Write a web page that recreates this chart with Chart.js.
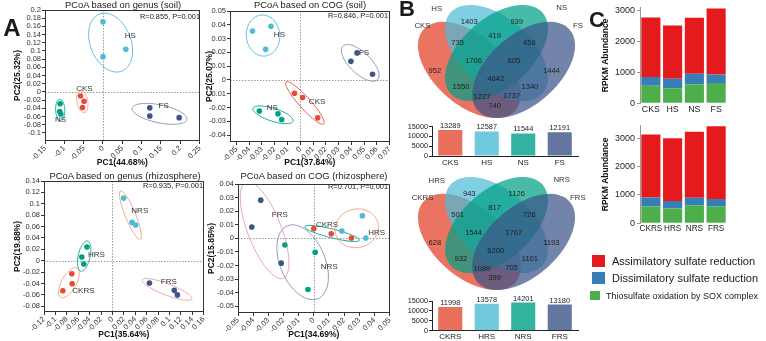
<!DOCTYPE html>
<html>
<head>
<meta charset="utf-8">
<script src="https://cdn.jsdelivr.net/npm/chart.js@4.4.1/dist/chart.umd.min.js"></script>
<style>
  body { margin: 0; width: 766px; height: 341px; overflow: hidden; position: relative; background: #fff;
         font-family: "Liberation Sans", Arial, sans-serif; }
  canvas { position: absolute; }
  .t { position: absolute; white-space: nowrap; color: #1a1a1a; line-height: 1; }
</style>
</head>
<body>
<script>
// ---------- data: PCoA (A) ----------
const soilGroups = ['CKS', 'HS', 'NS', 'FS'];
const rhizoGroups = ['CKRS', 'HRS', 'NRS', 'FRS'];

// genus, soil
const genusSoilX = [[-0.058, -0.049, -0.053], [0.0, 0.059, 0.0], [-0.111, -0.112, -0.109], [0.121, 0.121, 0.197]];
const genusSoilY = [[-0.010, -0.023, -0.038], [0.171, 0.104, 0.086], [-0.029, -0.048, -0.054], [-0.039, -0.059, -0.063]];
const genusSoilXTicks = [-0.15, -0.1, -0.05, 0, 0.05, 0.1, 0.15, 0.2, 0.25];
const genusSoilYTicks = [-0.1, -0.08, -0.06, -0.04, -0.02, 0, 0.02, 0.04, 0.06, 0.08, 0.1, 0.12, 0.14, 0.16, 0.18, 0.2];

// COG, soil
const cogSoilX = [[-0.0045, 0.0018, 0.0137], [-0.0374, -0.0229, -0.0271], [-0.032, -0.0174, -0.0145], [0.0445, 0.0397, 0.0566]];
const cogSoilY = [[-0.0097, -0.0128, -0.0275], [0.0355, 0.0389, 0.0222], [-0.0225, -0.0246, -0.0287], [0.0196, 0.0135, 0.0041]];
const cogSoilXTicks = [-0.05, -0.04, -0.03, -0.02, -0.01, 0, 0.01, 0.02, 0.03, 0.04, 0.05, 0.06, 0.07];
const cogSoilYTicks = [-0.04, -0.03, -0.02, -0.01, 0, 0.01, 0.02, 0.03, 0.04, 0.05];

// genus, rhizosphere
const genusRhizoX = [[-0.0712, -0.0706, -0.087], [-0.0446, -0.0537, -0.0503], [0.0198, 0.0345, 0.0407], [0.065, 0.1085, 0.114]];
const genusRhizoY = [[-0.0228, -0.0404, -0.0526], [0.024, 0.0064, -0.0058], [0.110, 0.0673, 0.0626], [-0.039, -0.052, -0.060]];
const genusRhizoXTicks = [-0.12, -0.1, -0.08, -0.06, -0.04, -0.02, 0, 0.02, 0.04, 0.06, 0.08, 0.1, 0.12, 0.14, 0.16];
const genusRhizoYTicks = [-0.08, -0.06, -0.04, -0.02, 0, 0.02, 0.04, 0.06, 0.08, 0.1, 0.12, 0.14];

// COG, rhizosphere
const cogRhizoX = [[0.0, 0.0115, 0.0248], [0.0185, 0.032, 0.0343], [-0.0191, 0.0009, -0.0039], [-0.035, -0.0409, -0.0215]];
const cogRhizoY = [[0.0071, 0.0034, 0.0002], [0.0054, 0.0166, 0.0002], [-0.0049, -0.0103, -0.0377], [0.0281, 0.0083, -0.0183]];
const cogRhizoXTicks = [-0.05, -0.04, -0.03, -0.02, -0.01, 0, 0.01, 0.02, 0.03, 0.04, 0.05];
const cogRhizoYTicks = [-0.05, -0.04, -0.03, -0.02, -0.01, 0, 0.01, 0.02, 0.03, 0.04];

// ---------- data: Venn + totals (B) ----------
const vennSoilCounts = [1403, 939, 735, 419, 456, 1706, 605, 952, 4642, 1444, 1550, 1340, 1227, 1737, 740];
const vennRhizoCounts = [943, 1126, 501, 817, 726, 1544, 1767, 628, 6200, 1193, 932, 1101, 1089, 705, 399];
const vennSoilNames = ['HS', 'NS', 'CKS', 'FS'];
const vennRhizoNames = ['HRS', 'NRS', 'CKRS', 'FRS'];
const totalSoil = [13289, 12587, 11544, 12191];
const totalRhizo = [11998, 13578, 14201, 13180];
const totalTicks = [0, 5000, 10000, 15000];

// ---------- data: sulfur pathways (C) ----------
const pathways = ['Assimilatory sulfate reduction', 'Dissimilatory sulfate reduction', 'Thiosulfate oxidation by SOX complex'];
const soilAssim = [1922, 1727, 1809, 2128];
const soilDissim = [288, 308, 339, 277];
const soilThio = [565, 483, 617, 658];
const rhizoAssim = [2222, 2211, 2322, 2566];
const rhizoDissim = [322, 267, 267, 267];
const rhizoThio = [589, 522, 633, 589];
const rpkmTicks = [0, 1000, 2000, 3000];

// ---------- style ----------
const FONT = '"Liberation Sans", Arial, sans-serif';
Chart.defaults.font.family = FONT;
Chart.defaults.color = '#333';
Chart.defaults.animation = false;
Chart.defaults.responsive = false;
Chart.defaults.devicePixelRatio = 1;
Chart.defaults.plugins.legend.display = false;
Chart.defaults.plugins.tooltip.enabled = false;

const npg = { red: '#E64B35', cyan: '#4DBBD5', teal: '#00A087', navy: '#3C5488', salmon: '#F39B7F', grey: '#8491B4', pink: '#E89AB8' };

function fmt(v) { return String(parseFloat(Number(v).toFixed(3))); }

function makeCanvas(b) {
  const c = document.createElement('canvas');
  c.width = b.w; c.height = b.h;
  c.style.left = b.left + 'px'; c.style.top = b.top + 'px';
  document.body.appendChild(c);
  return c;
}

function text(str, x, y, size, o = {}) {
  const d = document.createElement('div');
  d.className = 't';
  d.textContent = str;
  d.style.fontSize = size + 'px';
  d.style.left = x + 'px';
  d.style.top = y + 'px';
  if (o.bold) d.style.fontWeight = 'bold';
  const ax = o.align === 'left' ? '0' : o.align === 'right' ? '-100%' : '-50%';
  d.style.transform = `translate(${ax}, -50%)`;
  document.body.appendChild(d);
}

// ellipse around a group, fitted from the points' covariance in pixel space
function ellipsePts(data, xs, ys) {
  const p = data.map(d => [xs.getPixelForValue(d.x), ys.getPixelForValue(d.y)]);
  const n = p.length;
  const mx = p.reduce((s, q) => s + q[0], 0) / n, my = p.reduce((s, q) => s + q[1], 0) / n;
  let sxx = 0, syy = 0, sxy = 0;
  p.forEach(q => { sxx += (q[0] - mx) ** 2; syy += (q[1] - my) ** 2; sxy += (q[0] - mx) * (q[1] - my); });
  sxx = sxx / (n - 1) + 1; syy = syy / (n - 1) + 1; sxy /= (n - 1);
  const det = sxx * syy - sxy * sxy;
  let m = 0;
  p.forEach(q => {
    const dx = q[0] - mx, dy = q[1] - my;
    m = Math.max(m, (syy * dx * dx - 2 * sxy * dx * dy + sxx * dy * dy) / det);
  });
  const tr = sxx + syy, disc = Math.sqrt(Math.max(tr * tr / 4 - det, 0));
  const l1 = tr / 2 + disc, l2 = Math.max(tr / 2 - disc, 0);
  const th = 0.5 * Math.atan2(2 * sxy, sxx - syy);
  const r = Math.sqrt(m) * 1.25;
  const A = r * Math.sqrt(l1) + 3, B = r * Math.sqrt(l2) + 3;
  const out = [];
  for (let k = 0; k <= 72; k++) {
    const t = k / 72 * Math.PI * 2, u = A * Math.cos(t), v = B * Math.sin(t);
    out.push([mx + u * Math.cos(th) - v * Math.sin(th), my + u * Math.sin(th) + v * Math.cos(th)]);
  }
  return out;
}

const pcoaPlugin = {
  id: 'pcoa',
  beforeDatasetsDraw(chart, args, opts) {
    const { ctx, chartArea: a, scales: { x, y } } = chart;
    ctx.save();
    ctx.strokeStyle = '#9a9a9a'; ctx.lineWidth = 1; ctx.setLineDash([1.5, 1.5]);
    const x0 = Math.round(x.getPixelForValue(0)) + 0.5, y0 = Math.round(y.getPixelForValue(0)) + 0.5;
    ctx.beginPath();
    ctx.moveTo(x0, a.top); ctx.lineTo(x0, a.bottom);
    ctx.moveTo(a.left, y0); ctx.lineTo(a.right, y0);
    ctx.stroke();
    ctx.setLineDash([]);
    ctx.beginPath(); ctx.rect(a.left, a.top, a.width, a.height); ctx.clip();
    chart.data.datasets.forEach((ds, i) => {
      const pts = ellipsePts(ds.data, x, y);
      ctx.strokeStyle = opts.ellipseColors[i]; ctx.lineWidth = 0.9;
      ctx.beginPath();
      pts.forEach((q, j) => j ? ctx.lineTo(q[0], q[1]) : ctx.moveTo(q[0], q[1]));
      ctx.closePath(); ctx.stroke();
    });
    ctx.restore();
  },
  afterDatasetsDraw(chart, args, opts) {
    const { ctx, chartArea: a, scales: { x, y } } = chart;
    ctx.save();
    ctx.strokeStyle = '#333'; ctx.lineWidth = 1;
    ctx.strokeRect(Math.round(a.left) + 0.5, Math.round(a.top) + 0.5, Math.round(a.width) - 1, Math.round(a.height) - 1);
    ctx.font = '8px ' + FONT; ctx.fillStyle = '#333'; ctx.textAlign = 'center'; ctx.textBaseline = 'middle';
    opts.labels.forEach(l => ctx.fillText(l[0], x.getPixelForValue(l[1]), y.getPixelForValue(l[2])));
    ctx.restore();
  }
};

function pcoa(box, area, cfg) {
  const cv = makeCanvas(box);
  const lh = 8.5 * 1.2;
  const axisTicks = arr => s => { s.ticks = arr.map(v => ({ value: v })); };
  new Chart(cv, {
    type: 'scatter',
    data: {
      datasets: cfg.groups.map((g, i) => ({
        label: g,
        data: cfg.xs[i].map((v, j) => ({ x: v, y: cfg.ys[i][j] })),
        backgroundColor: cfg.colors[i], pointRadius: 2.8, pointBorderWidth: 0
      }))
    },
    options: {
      layout: { padding: { left: 0, top: area.t - box.top, right: box.left + box.w - area.r, bottom: 0 } },
      scales: {
        x: {
          type: 'linear', min: cfg.xMin, max: cfg.xMax,
          afterBuildTicks: axisTicks(cfg.xTicks),
          afterFit: s => { s.height = box.top + box.h - area.b; },
          ticks: { font: { size: 7.5 }, color: '#333', minRotation: 45, maxRotation: 45, padding: 0, autoSkip: false, callback: v => fmt(v) },
          grid: { drawOnChartArea: false, drawTicks: true, tickLength: 3, tickColor: '#333' },
          border: { display: false },
          title: { display: true, text: cfg.xTitle, color: '#111', font: { size: 8.5, weight: 'bold' },
                   padding: { top: 0, bottom: box.top + box.h - cfg.xTitleY - lh / 2 } }
        },
        y: {
          type: 'linear', min: cfg.yMin, max: cfg.yMax,
          afterBuildTicks: axisTicks(cfg.yTicks),
          afterFit: s => { s.width = area.l - box.left; },
          ticks: { font: { size: 7.5 }, color: '#333', padding: 1, autoSkip: false, callback: v => fmt(v) },
          grid: { drawOnChartArea: false, drawTicks: true, tickLength: 3, tickColor: '#333' },
          border: { display: false },
          title: { display: true, text: cfg.yTitle, color: '#111', font: { size: 8.5, weight: 'bold' },
                   padding: { top: cfg.yTitleX - box.left - lh / 2, bottom: 0 } }
        }
      },
      plugins: { pcoa: { ellipseColors: cfg.ellipseColors, labels: cfg.labels } }
    },
    plugins: [pcoaPlugin]
  });
}

// A: four PCoA panels
pcoa({ left: 0, top: 0, w: 206, h: 170 }, { l: 45, t: 10, r: 201, b: 141 }, {
  groups: soilGroups, xs: genusSoilX, ys: genusSoilY,
  colors: [npg.red, npg.cyan, npg.teal, npg.navy], ellipseColors: [npg.salmon, npg.cyan, npg.teal, npg.grey],
  xMin: -0.15, xMax: 0.25, yMin: -0.12, yMax: 0.2, xTicks: genusSoilXTicks, yTicks: genusSoilYTicks,
  xTitle: 'PC1(44.68%)', yTitle: 'PC2(25.32%)', xTitleY: 163, yTitleX: 18,
  labels: [['CKS', -0.048, 0.008], ['HS', 0.0707, 0.138], ['NS', -0.11, -0.068], ['FS', 0.157, -0.033]]
});
pcoa({ left: 196, top: 0, w: 200, h: 170 }, { l: 230, t: 11, r: 390, b: 142 }, {
  groups: soilGroups, xs: cogSoilX, ys: cogSoilY,
  colors: [npg.red, npg.cyan, npg.teal, npg.navy], ellipseColors: [npg.red, npg.cyan, npg.teal, npg.grey],
  xMin: -0.055, xMax: 0.07, yMin: -0.045, yMax: 0.05, xTicks: cogSoilXTicks, yTicks: cogSoilYTicks,
  xTitle: 'PC1(37.84%)', yTitle: 'PC2(25.07%)', xTitleY: 163, yTitleX: 210,
  labels: [['CKS', 0.0132, -0.016], ['HS', -0.0163, 0.0324], ['NS', -0.0218, -0.02], ['FS', 0.05, 0.0196]]
});
pcoa({ left: 0, top: 170, w: 210, h: 171 }, { l: 44, t: 181, r: 205, b: 312 }, {
  groups: rhizoGroups, xs: genusRhizoX, ys: genusRhizoY,
  colors: [npg.red, npg.teal, npg.cyan, npg.navy], ellipseColors: [npg.salmon, npg.teal, npg.salmon, npg.pink],
  xMin: -0.12, xMax: 0.16, yMin: -0.09, yMax: 0.14, xTicks: genusRhizoXTicks, yTicks: genusRhizoYTicks,
  xTitle: 'PC1(35.64%)', yTitle: 'PC2(19.88%)', xTitleY: 335, yTitleX: 18,
  labels: [['CKRS', -0.0508, -0.0532], ['HRS', -0.0282, 0.0099], ['NRS', 0.048, 0.0877], ['FRS', 0.0989, -0.0368]]
});
pcoa({ left: 196, top: 170, w: 200, h: 171 }, { l: 238, t: 184, r: 390, b: 313 }, {
  groups: rhizoGroups, xs: cogRhizoX, ys: cogRhizoY,
  colors: [npg.red, npg.cyan, npg.teal, npg.navy], ellipseColors: [npg.teal, npg.salmon, npg.grey, npg.pink],
  xMin: -0.05, xMax: 0.05, yMin: -0.055, yMax: 0.04, xTicks: cogRhizoXTicks, yTicks: cogRhizoYTicks,
  xTitle: 'PC1(34.69%)', yTitle: 'PC2(15.85%)', xTitleY: 335, yTitleX: 212,
  labels: [['CKRS', 0.0087, 0.0098], ['HRS', 0.0414, 0.004], ['NRS', 0.0102, -0.0208], ['FRS', -0.0224, 0.0171]]
});

text('PCoA based on genus (soil)', 123, 4.5, 9.4);
text('PCoA based on COG (soil)', 310, 4.5, 9.4);
text('PCoA based on genus (rhizosphere)', 125, 176, 9.4);
text('PCoA based on COG (rhizosphere)', 314, 176, 9.4);
text('R=0.855, P=0.001', 200, 16.5, 7.4, { align: 'right' });
text('R=0.846, P=0.001', 388, 15.5, 7.4, { align: 'right' });
text('R=0.935, P=0.001', 203, 186, 7.4, { align: 'right' });
text('R=0.701, P=0.001', 388, 187, 7.4, { align: 'right' });

// ---------- B: Venn diagrams ----------
// unit layout of the four-set ellipse diagram and of its region labels
const vennShapes = [
  { cx: 0.35, cy: 0.47, rot: -Math.PI / 4 },
  { cx: 0.50, cy: 0.57, rot: -Math.PI / 4 },
  { cx: 0.50, cy: 0.57, rot: Math.PI / 4 },
  { cx: 0.65, cy: 0.47, rot: Math.PI / 4 }
];
const vennSpots = [[0.349, 0.753], [0.612, 0.753], [0.285, 0.628], [0.489, 0.671], [0.682, 0.628], [0.373, 0.524],
  [0.596, 0.524], [0.158, 0.465], [0.496, 0.414], [0.804, 0.464], [0.303, 0.367], [0.685, 0.367], [0.42, 0.311],
  [0.583, 0.318], [0.489, 0.255]];
const vennNameSpots = [[0.169, 0.831], [0.861, 0.841], [0.09, 0.730], [0.951, 0.730]];
const vennFill = ['rgba(230,75,53,0.78)', 'rgba(77,187,213,0.72)', 'rgba(0,160,135,0.72)', 'rgba(60,84,136,0.72)'];

const vennPlugin = {
  id: 'venn',
  afterDatasetsDraw(chart, args, opts) {
    const { ctx, scales: { x, y } } = chart;
    ctx.save();
    vennShapes.forEach((s, i) => {
      ctx.fillStyle = vennFill[i];
      ctx.beginPath();
      for (let k = 0; k <= 90; k++) {
        const t = k / 90 * Math.PI * 2, u = 0.35 * Math.cos(t), v = 0.2 * Math.sin(t);
        const px = x.getPixelForValue(s.cx + u * Math.cos(s.rot) - v * Math.sin(s.rot));
        const py = y.getPixelForValue(s.cy + u * Math.sin(s.rot) + v * Math.cos(s.rot));
        k ? ctx.lineTo(px, py) : ctx.moveTo(px, py);
      }
      ctx.fill();
    });
    ctx.fillStyle = '#1e1e1e'; ctx.textAlign = 'center'; ctx.textBaseline = 'middle';
    ctx.font = '7.6px ' + FONT;
    opts.counts.forEach((n, i) => ctx.fillText(n, x.getPixelForValue(vennSpots[i][0]), y.getPixelForValue(vennSpots[i][1])));
    ctx.font = '7.8px ' + FONT; ctx.fillStyle = '#333';
    opts.names.forEach((n, i) => ctx.fillText(n, x.getPixelForValue(vennNameSpots[i][0]), y.getPixelForValue(vennNameSpots[i][1])));
    ctx.restore();
  }
};

function venn(top, counts, names) {
  const cv = makeCanvas({ left: 400, top: top, w: 190, h: 122 });
  new Chart(cv, {
    type: 'scatter',
    data: { datasets: [{ data: [] }] },
    options: {
      layout: { padding: 0 },
      scales: {
        x: { type: 'linear', display: false, min: -0.0347, max: 1.018 },
        y: { type: 'linear', display: false, min: 0.1613, max: 0.8846 }
      },
      plugins: { venn: { counts: counts, names: names } }
    },
    plugins: [vennPlugin]
  });
}
venn(0, vennSoilCounts, vennSoilNames);
venn(172, vennRhizoCounts, vennRhizoNames);

const valueLabels = {
  id: 'valueLabels',
  afterDatasetsDraw(chart) {
    const ctx = chart.ctx, ds = chart.data.datasets[0];
    ctx.save();
    ctx.font = '7.4px ' + FONT; ctx.fillStyle = '#222'; ctx.textAlign = 'center'; ctx.textBaseline = 'bottom';
    chart.getDatasetMeta(0).data.forEach((bar, i) => ctx.fillText(ds.data[i], bar.x, bar.y - 0.3));
    ctx.restore();
  }
};

function totals(box, area, cats, values, labelPad) {
  const cv = makeCanvas(box);
  new Chart(cv, {
    type: 'bar',
    data: {
      labels: cats,
      datasets: [{ data: values, backgroundColor: ['rgba(230,75,53,0.8)', 'rgba(77,187,213,0.8)', 'rgba(0,160,135,0.8)', 'rgba(60,84,136,0.8)'],
                   barPercentage: 0.66, categoryPercentage: 1.0 }]
    },
    options: {
      layout: { padding: { left: 0, top: area.t - box.top, right: box.left + box.w - area.r, bottom: 0 } },
      scales: {
        x: {
          afterFit: s => { s.height = box.top + box.h - area.b; },
          ticks: { font: { size: 8 }, color: '#222', padding: labelPad, maxRotation: 0 },
          grid: { display: false, drawTicks: false, tickLength: 0 }, border: { display: true, color: '#222', width: 1 }
        },
        y: {
          min: 0, max: 15000,
          afterBuildTicks: s => { s.ticks = totalTicks.map(v => ({ value: v })); },
          afterFit: s => { s.width = area.l - box.left; },
          ticks: { font: { size: 7.3 }, color: '#222', padding: 1, autoSkip: false, callback: v => String(v) },
          grid: { drawOnChartArea: false, tickLength: 3, tickColor: '#222' },
          border: { display: true, color: '#222', width: 1 }
        }
      }
    },
    plugins: [valueLabels]
  });
}
totals({ left: 395, top: 118, w: 190, h: 54 }, { l: 432, t: 126.7, r: 578, b: 156 }, soilGroups, totalSoil, 2);
totals({ left: 395, top: 290, w: 190, h: 51 }, { l: 432, t: 301, r: 578, b: 330.7 }, rhizoGroups, totalRhizo, 1.5);

// ---------- C: stacked pathway abundance ----------
function rpkm(box, area, cats, thio, dissim, assim, yMax, labelSize) {
  const cv = makeCanvas(box);
  const lh = 8.5 * 1.2;
  const common = { barPercentage: 0.88, categoryPercentage: 1.0, borderWidth: 0 };
  new Chart(cv, {
    type: 'bar',
    data: {
      labels: cats,
      datasets: [
        { label: pathways[2], data: thio, backgroundColor: '#4DAF4A', ...common },
        { label: pathways[1], data: dissim, backgroundColor: '#377EB8', ...common },
        { label: pathways[0], data: assim, backgroundColor: '#E41A1C', ...common }
      ]
    },
    options: {
      layout: { padding: { left: 0, top: area.t - box.top, right: box.left + box.w - area.r, bottom: 0 } },
      scales: {
        x: {
          stacked: true,
          afterFit: s => { s.height = box.top + box.h - area.b; },
          ticks: { font: { size: labelSize }, color: '#222', padding: 1, maxRotation: 0, autoSkip: false },
          grid: { display: false, drawTicks: false, tickLength: 0 }, border: { display: false }
        },
        y: {
          stacked: true, min: 0, max: yMax,
          afterBuildTicks: s => { s.ticks = rpkmTicks.map(v => ({ value: v })); },
          afterFit: s => { s.width = area.l - box.left; },
          ticks: { font: { size: 9 }, color: '#222', padding: 2, autoSkip: false, callback: v => String(v) },
          grid: { drawOnChartArea: false, tickLength: 3, tickColor: '#999' },
          border: { display: true, color: '#999', width: 1 },
          title: { display: true, text: 'RPKM Abundance', color: '#111', font: { size: 8.5, weight: 'bold' },
                   padding: { top: 606 - box.left - lh / 2, bottom: 0 } }
        }
      }
    }
  });
}
rpkm({ left: 596, top: 0, w: 140, h: 118 }, { l: 640, t: 3, r: 727, b: 103.3 }, soilGroups, soilThio, soilDissim, soilAssim, 3100, 8.8);
rpkm({ left: 596, top: 118, w: 140, h: 123 }, { l: 640, t: 120, r: 727, b: 223.3 }, rhizoGroups, rhizoThio, rhizoDissim, rhizoAssim, 3450, 8.2);

// legend for C
const legendColors = ['#E41A1C', '#377EB8', '#4DAF4A'];
[[592, 255, 13, 12, 261, 612, 11], [592, 272, 13, 12, 278, 612, 11], [590, 291, 10, 9, 296, 606, 9]].forEach((g, i) => {
  const sq = document.createElement('div');
  sq.style.cssText = `position:absolute;left:${g[0]}px;top:${g[1]}px;width:${g[2]}px;height:${g[3]}px;background:${legendColors[i]}`;
  document.body.appendChild(sq);
  text(pathways[i], g[5], g[4], g[6], { align: 'left' });
});

// panel letters
text('A', 12, 27.5, 24, { bold: true });
text('B', 407, 9, 22, { bold: true });
text('C', 597, 20, 22, { bold: true });
</script>
</body>
</html>
